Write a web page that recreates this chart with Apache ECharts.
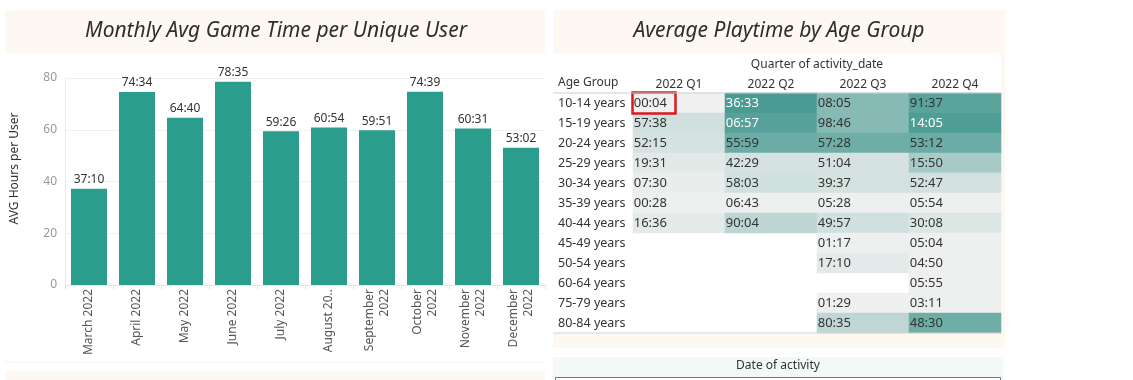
<!DOCTYPE html>
<html>
<head>
<meta charset="utf-8">
<script src="https://cdn.jsdelivr.net/npm/echarts/dist/echarts.min.js"></script>
<style>
html,body{margin:0;padding:0;background:#ffffff;}
#chart{width:1133px;height:380px;}
</style>
</head>
<body>
<div id="chart"></div>
<script>
// ---- Left chart: monthly average game time ----
const months = ['March 2022','April 2022','May 2022','June 2022','July 2022','August 2022','September 2022','October 2022','November 2022','December 2022'];
const monthTickLabels = ['March 2022','April 2022','May 2022','June 2022','July 2022','August 20..','September\n2022','October\n2022','November\n2022','December\n2022'];
const avgTime = ['37:10','74:34','64:40','78:35','59:26','60:54','59:51','74:39','60:31','53:02'];
const yTickValues = [0, 20, 40, 60, 80];

// ---- Right chart: average playtime by age group ----
const quarters = ['2022 Q1','2022 Q2','2022 Q3','2022 Q4'];
const ageGroups = ['10-14 years','15-19 years','20-24 years','25-29 years','30-34 years','35-39 years','40-44 years','45-49 years','50-54 years','60-64 years','75-79 years','80-84 years'];
const q1Time = ['00:04','57:38','52:15','19:31','07:30','00:28','16:36',null,null,null,null,null];
const q2Time = ['36:33','06:57','55:59','42:29','58:03','06:43','90:04',null,null,null,null,null];
const q3Time = ['08:05','98:46','57:28','51:04','39:37','05:28','49:57','01:17','17:10',null,'01:29','80:35'];
const q4Time = ['91:37','14:05','53:12','15:50','52:47','05:54','30:08','05:04','04:50','05:55','03:11','48:30'];
// colour measure of each cell (0-100)
const q1Shade = [0,19,16,8,4,1,7,null,null,null,null,null];
const q2Shade = [100,93,80,16,19,1,31,null,null,null,null,null];
const q3Shade = [64,63,78,16,17,1,19,1,7,null,1,30];
const q4Shade = [90,97,80,43,18,1,12,1,1,1,1,78];
const highlightCell = [0, 0]; // 2022 Q1 / 10-14 years

const FONT = 'Noto Sans';

function toHours(t){ const p = t.split(':'); return Number(p[0]) + Number(p[1]) / 60; }
const barValues = avgTime.map(toHours);

const times = [q1Time, q2Time, q3Time, q4Time];
const shades = [q1Shade, q2Shade, q3Shade, q4Shade];
const heatData = [];
times.forEach((col, qi) => {
  col.forEach((t, ai) => {
    if (t === null) return;
    const v = shades[qi][ai];
    heatData.push({ value: [qi, ai, v], text: t, label: { color: v >= 92 ? '#ffffff' : '#333333' } });
  });
});

const chart = echarts.init(document.getElementById('chart'), null, { renderer: 'canvas' });

const option = {
  animation: false,
  backgroundColor: '#ffffff',
  textStyle: { fontFamily: FONT },
  grid: [
    { left: 65, top: 78, width: 480, height: 207, containLabel: false, outerBoundsMode: 'none' },
    { left: 633, top: 93, width: 368, height: 240, containLabel: false, outerBoundsMode: 'none' }
  ],
  xAxis: [
    {
      type: 'category', gridIndex: 0, data: months,
      axisLine: { show: true, lineStyle: { color: '#e6e6e6' } },
      axisTick: { show: true, length: 5, lineStyle: { color: '#e3e3e3' } },
      axisLabel: {
        interval: 0, rotate: 90, margin: 4, color: '#555555', fontSize: 12, lineHeight: 15, fontFamily: FONT,
        formatter: (v, i) => monthTickLabels[i]
      },
      splitLine: { show: false }
    },
    {
      type: 'category', gridIndex: 1, data: quarters, position: 'top',
      name: 'Quarter of activity_date', nameLocation: 'middle', nameGap: 22,
      nameTextStyle: { color: '#333333', fontSize: 12, fontFamily: FONT },
      axisLine: { show: false }, axisTick: { show: false },
      axisLabel: { color: '#333333', fontSize: 12, margin: 2, fontFamily: FONT },
      splitLine: { show: false }
    }
  ],
  yAxis: [
    {
      type: 'value', gridIndex: 0, min: yTickValues[0], max: yTickValues[yTickValues.length - 1], interval: 20,
      name: 'AVG Hours per User', nameLocation: 'middle', nameGap: 44,
      nameTextStyle: { color: '#333333', fontSize: 12, fontFamily: FONT, padding: [0, 0, 0, 26] },
      axisLine: { show: true, lineStyle: { color: '#ececec' } },
      axisTick: { show: false },
      axisLabel: { color: '#999999', fontSize: 12, margin: 8, fontFamily: FONT },
      splitLine: { show: true, lineStyle: { color: '#f0f0f0', width: 1 } }
    },
    {
      type: 'category', gridIndex: 1, data: ageGroups, inverse: true,
      axisLine: { show: false }, axisTick: { show: false },
      axisLabel: { color: '#333333', fontSize: 12.5, align: 'left', margin: 75, fontFamily: FONT },
      splitLine: { show: false }
    }
  ],
  visualMap: {
    show: false, type: 'continuous', seriesIndex: 1, dimension: 2, min: 0, max: 100,
    inRange: { color: ['#f0f0f0', '#4a9b93'] }
  },
  series: [
    {
      type: 'bar', xAxisIndex: 0, yAxisIndex: 0, data: barValues, barWidth: 36,
      itemStyle: { color: '#2a9d8c' },
      label: {
        show: true, position: 'top', distance: 3, color: '#333333', fontSize: 12, fontFamily: FONT,
        formatter: p => avgTime[p.dataIndex]
      },
      emphasis: { disabled: true }
    },
    {
      type: 'heatmap', xAxisIndex: 1, yAxisIndex: 1, data: heatData,
      label: {
        show: true, position: 'insideLeft', distance: 1, fontSize: 13, fontFamily: FONT,
        formatter: p => p.data.text
      },
      itemStyle: { borderWidth: 0 },
      emphasis: { disabled: true }
    },
    {
      type: 'custom', xAxisIndex: 1, yAxisIndex: 1, data: [highlightCell], silent: true, z: 10,
      renderItem: (params, api) => {
        const c = api.coord([api.value(0), api.value(1)]);
        const s = api.size([1, 1]);
        return {
          type: 'rect',
          shape: { x: c[0] - s[0] / 2 - 0.5, y: c[1] - s[1] / 2 - 0.5, width: 43, height: s[1] + 1 },
          style: { fill: null, stroke: '#d9181f', lineWidth: 2.5 }
        };
      }
    }
  ],
  graphic: [
    // left panel
    { type: 'rect', z: 0, shape: { x: 5, y: 10, width: 540, height: 43 }, style: { fill: '#fdf8f1' } },
    { type: 'text', z: 100, x: 276, y: 31, style: { text: 'Monthly Avg Game Time per Unique User', font: 'italic 21px "Noto Sans"', fill: '#2e2e2e', textAlign: 'center', textVerticalAlign: 'middle' } },
    { type: 'rect', z: 0, shape: { x: 5, y: 361.5, width: 540, height: 1 }, style: { fill: '#f7f1e8' } },
    { type: 'rect', z: 0, shape: { x: 5, y: 371, width: 540, height: 9 }, style: { fill: '#fdf8f1' } },
    // right panel frame
    { type: 'rect', z: 0, shape: { x: 553, y: 10, width: 452, height: 43 }, style: { fill: '#fdf8f1' } },
    { type: 'rect', z: 0, shape: { x: 1001, y: 53, width: 4, height: 280 }, style: { fill: '#fdf8f1' } },
    { type: 'rect', z: 0, shape: { x: 553, y: 333, width: 452, height: 15 }, style: { fill: '#fdf8f1' } },
    { type: 'text', z: 100, x: 779, y: 31, style: { text: 'Average Playtime by Age Group', font: 'italic 21px "Noto Sans"', fill: '#2e2e2e', textAlign: 'center', textVerticalAlign: 'middle' } },
    { type: 'text', z: 100, x: 558, y: 83, style: { text: 'Age Group', font: '12px "Noto Sans"', fill: '#333333', textAlign: 'left', textVerticalAlign: 'middle' } },
    { type: 'rect', z: 100, shape: { x: 553, y: 92.5, width: 448, height: 1 }, style: { fill: '#cfcfcf' } },
    { type: 'rect', z: 100, shape: { x: 553, y: 332.5, width: 448, height: 1 }, style: { fill: '#d6d6d6' } },
    // bottom filter panel
    { type: 'rect', z: 0, shape: { x: 553, y: 357, width: 450, height: 23 }, style: { fill: '#f3f8f8' } },
    { type: 'text', z: 100, x: 778, y: 366, style: { text: 'Date of activity', font: '12px "Noto Sans"', fill: '#333333', textAlign: 'center', textVerticalAlign: 'middle' } },
    { type: 'rect', z: 100, shape: { x: 555.5, y: 377.5, width: 445, height: 10 }, style: { fill: '#ffffff', stroke: '#777777', lineWidth: 1 } }
  ]
};

chart.setOption(option);
</script>
</body>
</html>
